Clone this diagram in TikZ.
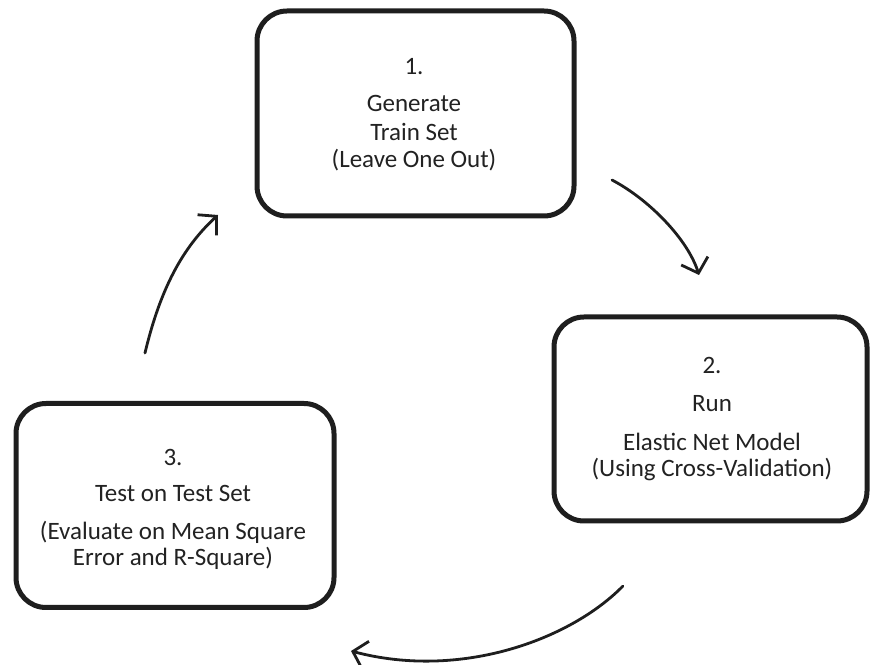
\documentclass[tikz,border=0pt]{standalone}
\usepackage{fontspec}
\setmainfont{Carlito}
\usetikzlibrary{arrows.meta}
\definecolor{ink}{HTML}{1E1E1E}
\definecolor{txt}{HTML}{222222}
\tikzset{
  stepbox/.style={draw=ink, line width=5pt, rounded corners=30pt, fill=white},
  lbl/.style={font=\fontsize{25}{28}\selectfont, text=txt, inner sep=0pt, anchor=center},
  flow/.style={draw=ink, line width=2.8pt, line cap=round,
    -{Straight Barb[length=13pt, width=28pt, line width=2.8pt]}}
}
\begin{document}
\begin{tikzpicture}[x=1pt,y=1pt]
\useasboundingbox (0,0) rectangle (870,664);
% boxes (y = 664 - pixel y)
\node[stepbox, minimum width=317pt, minimum height=205pt] (b1) at (415.5,664-113.5) {};
\node[stepbox, minimum width=313pt, minimum height=204pt] (b2) at (710.5,664-419) {};
\node[stepbox, minimum width=318pt, minimum height=204pt] (b3) at (175,664-505.5) {};
% box 1 text
\node[lbl] (t1a) at (414,664-67) {1.};
\node[lbl] (t1b) at (414,664-103) {Generate};
\node[lbl] (t1c) at (414,664-132) {Train Set};
\node[lbl] (t1d) at (414,664-160) {(Leave One Out)};
% box 2 text
\node[lbl] (t2a) at (712,664-365) {2.};
\node[lbl] (t2b) at (712,664-404) {Run};
\node[lbl] (t2c) at (712,664-442) {Elastic Net Model};
\node[lbl] (t2d) at (712,664-470) {(Using Cross-Validation)};
% box 3 text
\node[lbl] (t3a) at (173,664-457) {3.};
\node[lbl] (t3b) at (173,664-493) {Test on Test Set};
\node[lbl] (t3c) at (173,664-532) {(Evaluate on Mean Square};
\node[lbl] (t3d) at (173,664-558) {Error and R-Square)};
% arrow endpoints
\coordinate (a1s) at (612,664-180);
\coordinate (a1e) at (699,664-275);
\coordinate (a2s) at (623,664-586);
\coordinate (a2e) at (351,664-651);
\coordinate (a3s) at (145,664-353);
\coordinate (a3e) at (218,664-215);
\draw[flow] (a1s) .. controls (650,664-200) and (688,664-240) .. (a1e);
\draw[flow] (a2s) .. controls (570,664-640) and (460,664-680) .. (a2e);
\draw[flow] (a3s) .. controls (160,664-290) and (182,664-248) .. (a3e);
\end{tikzpicture}
\end{document}
